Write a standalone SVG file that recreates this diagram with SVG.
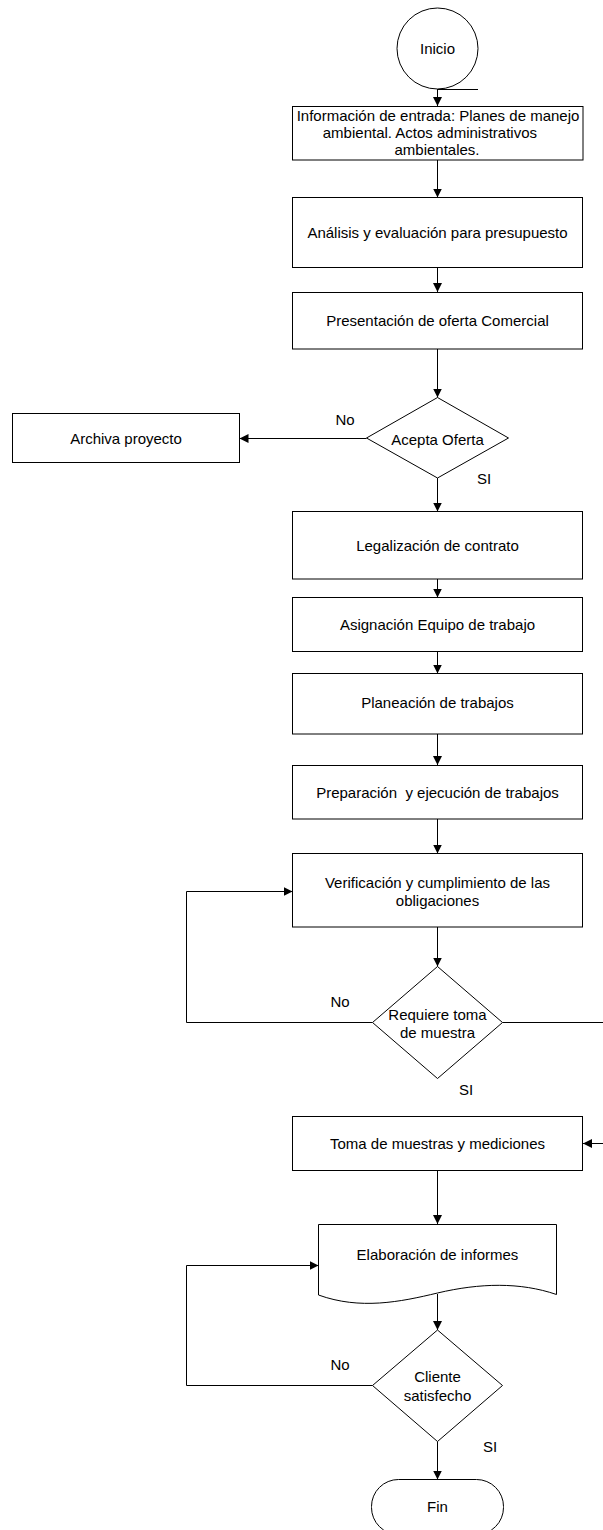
<svg xmlns="http://www.w3.org/2000/svg" width="603" height="1530" viewBox="0 0 603 1530">
<style>
.s{fill:#fff;stroke:#000;stroke-width:1}
.c{fill:none;stroke:#000;stroke-width:1}
text{font-family:"Liberation Sans",Arial,sans-serif;font-size:15px;fill:#000;text-anchor:middle;white-space:pre}
</style>
<defs>
<marker id="a" markerWidth="10" markerHeight="10" refX="9" refY="4.5" orient="auto" markerUnits="userSpaceOnUse">
<path d="M0,0 L9,4.5 L0,9 Z" fill="#000"/>
</marker>
</defs>
<rect width="603" height="1530" fill="#fff"/>
<g id="connectors">
<path class="c" d="M437.5,89.5 H478"/>
<path class="c" d="M437.5,89 V106" marker-end="url(#a)"/>
<path class="c" d="M437.5,160 V197.5" marker-end="url(#a)"/>
<path class="c" d="M437.5,267.5 V292" marker-end="url(#a)"/>
<path class="c" d="M437.5,349 V397.5" marker-end="url(#a)"/>
<path class="c" d="M366.5,438.5 H239.5" marker-end="url(#a)"/>
<path class="c" d="M437.5,478 V511.5" marker-end="url(#a)"/>
<path class="c" d="M437.5,579 V597.5" marker-end="url(#a)"/>
<path class="c" d="M437.5,651.5 V673.5" marker-end="url(#a)"/>
<path class="c" d="M437.5,734 V765" marker-end="url(#a)"/>
<path class="c" d="M437.5,819 V853.5" marker-end="url(#a)"/>
<path class="c" d="M437.5,927 V966.5" marker-end="url(#a)"/>
<path class="c" d="M372.5,1022.5 H186.5 V891.5 H292.5" marker-end="url(#a)"/>
<path class="c" d="M502.5,1022.5 H606 V1143.5 H583" marker-end="url(#a)"/>
<path class="c" d="M437.5,1170.5 V1224" marker-end="url(#a)"/>
<path class="c" d="M437.5,1294 V1330" marker-end="url(#a)"/>
<path class="c" d="M372.5,1385.5 H186.5 V1265.5 H318.5" marker-end="url(#a)"/>
<path class="c" d="M437.5,1441.5 V1479.5" marker-end="url(#a)"/>
<text x="345" y="425">No</text>
<text x="484" y="483.5">SI</text>
<text x="340" y="1007">No</text>
<text x="466" y="1094.5">SI</text>
<text x="340" y="1369.5">No</text>
<text x="490" y="1452">SI</text>
</g>
<g id="inicio">
<circle class="s" cx="437.5" cy="48.5" r="40.5"/>
<text x="437.5" y="53.5">Inicio</text>
</g>
<g id="entrada">
<rect class="s" x="292.5" y="106.5" width="290.5" height="53.5"/>
<text x="438" y="120.5">Información de entrada: Planes de manejo</text>
<text x="432" y="137.5">ambiental. Actos administrativos </text>
<text x="437" y="154.5">ambientales.</text>
</g>
<g id="analisis">
<rect class="s" x="292.5" y="197.5" width="290" height="70"/>
<text x="437.5" y="238">Análisis y evaluación para presupuesto</text>
</g>
<g id="presentacion">
<rect class="s" x="292.5" y="292.5" width="290" height="56.5"/>
<text x="437.5" y="326">Presentación de oferta Comercial</text>
</g>
<g id="acepta">
<path class="s" d="M437.5,397.5 L508.5,438 L437.5,478 L366.5,438 Z"/>
<text x="437.5" y="444.5">Acepta Oferta</text>
</g>
<g id="archiva">
<rect class="s" x="12.5" y="413.5" width="227" height="49"/>
<text x="126" y="443.5">Archiva proyecto</text>
</g>
<g id="legalizacion">
<rect class="s" x="292.5" y="511.5" width="290" height="67.5"/>
<text x="437.5" y="550.5">Legalización de contrato</text>
</g>
<g id="asignacion">
<rect class="s" x="292.5" y="597.5" width="290" height="54"/>
<text x="437.5" y="630">Asignación Equipo de trabajo</text>
</g>
<g id="planeacion">
<rect class="s" x="292.5" y="673.5" width="290" height="60.5"/>
<text x="437.5" y="708">Planeación de trabajos</text>
</g>
<g id="preparacion">
<rect class="s" x="292.5" y="765.5" width="290" height="53.5"/>
<text x="437.5" y="797.5">Preparación  y ejecución de trabajos</text>
</g>
<g id="verificacion">
<rect class="s" x="292.5" y="853.5" width="290" height="73.5"/>
<text x="437.5" y="887.5">Verificación y cumplimiento de las</text>
<text x="437.5" y="906">obligaciones</text>
</g>
<g id="requiere">
<path class="s" d="M437.5,966.5 L502.5,1022.5 L437.5,1078.5 L372.5,1022.5 Z"/>
<text x="437.5" y="1019.5">Requiere toma</text>
<text x="437.5" y="1038">de muestra</text>
</g>
<g id="toma">
<rect class="s" x="292.5" y="1116.5" width="290" height="54"/>
<text x="437.5" y="1148.5">Toma de muestras y mediciones</text>
</g>
<g id="elaboracion">
<path class="s" d="M318.5,1224.5 H556.5 V1294.5 C520,1282 480,1283 437.5,1293 C400,1302 360,1310 318.5,1295 Z"/>
<text x="437.5" y="1259.5">Elaboración de informes</text>
</g>
<g id="cliente">
<path class="s" d="M437.5,1330 L502.5,1385.5 L437.5,1441.5 L372.5,1385.5 Z"/>
<text x="437.5" y="1381.5">Cliente</text>
<text x="437.5" y="1400.5">satisfecho</text>
</g>
<g id="fin">
<rect class="s" x="371.5" y="1479.5" width="132" height="55" rx="27" ry="27"/>
<text x="437.5" y="1511.5">Fin</text>
</g>
</svg>
